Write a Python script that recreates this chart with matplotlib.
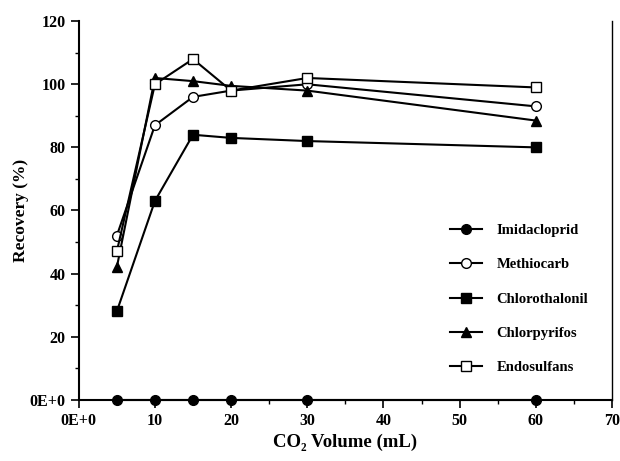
import matplotlib
matplotlib.use('Agg')
import matplotlib.pyplot as plt
from matplotlib.ticker import MultipleLocator, FuncFormatter

# CO2 volume (mL)
volume = [5, 10, 15, 20, 30, 60]

imidacloprid = [0, 0, 0, 0, 0, 0]
methiocarb = [52, 87, 96, 98, 100, 93]
chlorothalonil = [28, 63, 84, 83, 82, 80]
chlorpyrifos = [42, 102, 101, 99.5, 98, 88.5]
endosulfans = [47, 100, 108, 98, 102, 99]

plt.rcParams['font.family'] = ['Liberation Serif', 'DejaVu Serif']
plt.rcParams['font.weight'] = 'bold'

fig = plt.figure(figsize=(6.2, 4.61), dpi=100)
ax = fig.add_axes([0.127, 0.133, 0.86, 0.821])

ms = 7
lw = 1.5
ax.plot(volume, imidacloprid, '-o', color='black', mfc='black', ms=ms, lw=lw, label='Imidacloprid', clip_on=False, zorder=5)
ax.plot(volume, methiocarb, '-o', color='black', mfc='white', ms=ms, lw=lw, label='Methiocarb', markeredgewidth=1.0)
ax.plot(volume, chlorothalonil, '-s', color='black', mfc='black', ms=ms, lw=lw, label='Chlorothalonil')
ax.plot(volume, chlorpyrifos, '-^', color='black', mfc='black', ms=ms, lw=lw, label='Chlorpyrifos')
ax.plot(volume, endosulfans, '-s', color='black', mfc='white', ms=ms - 0.5, lw=lw, label='Endosulfans', markeredgewidth=1.0)

ax.set_xlim(0, 70)
ax.set_ylim(0, 120)
ax.xaxis.set_major_locator(MultipleLocator(10))
ax.xaxis.set_minor_locator(MultipleLocator(5))
ax.yaxis.set_major_locator(MultipleLocator(20))
ax.yaxis.set_minor_locator(MultipleLocator(10))

fmt = FuncFormatter(lambda v, p: '0E+0' if v == 0 else '%d' % v)
ax.xaxis.set_major_formatter(fmt)
ax.yaxis.set_major_formatter(fmt)

ax.spines['top'].set_visible(False)
ax.spines['left'].set_linewidth(1.5)
ax.spines['bottom'].set_linewidth(1.5)
ax.spines['right'].set_linewidth(1.0)

ax.tick_params(which='major', direction='out', length=6, width=1.2, labelsize=11.5)
ax.tick_params(which='minor', direction='out', length=3, width=1.0)
ax.tick_params(axis='y', right=False)
for t in ax.get_xticklabels() + ax.get_yticklabels():
    t.set_fontweight('bold')

ax.set_xlabel('CO₂ Volume (mL)', fontsize=13.5, fontweight='bold', va='center')
ax.set_ylabel('Recovery (%)', fontsize=12.5, fontweight='bold', va='center')
ax.xaxis.set_label_coords(0.5, -0.112)
ax.yaxis.set_label_coords(-0.109, 0.5)

leg = ax.legend(loc='upper left', bbox_to_anchor=(0.696, 0.465), frameon=False,
                borderpad=0, borderaxespad=0, handlelength=2.2, handletextpad=1.0,
                labelspacing=1.45, prop={'weight': 'bold', 'size': 10.5})

fig.savefig('out.png', dpi=100)
